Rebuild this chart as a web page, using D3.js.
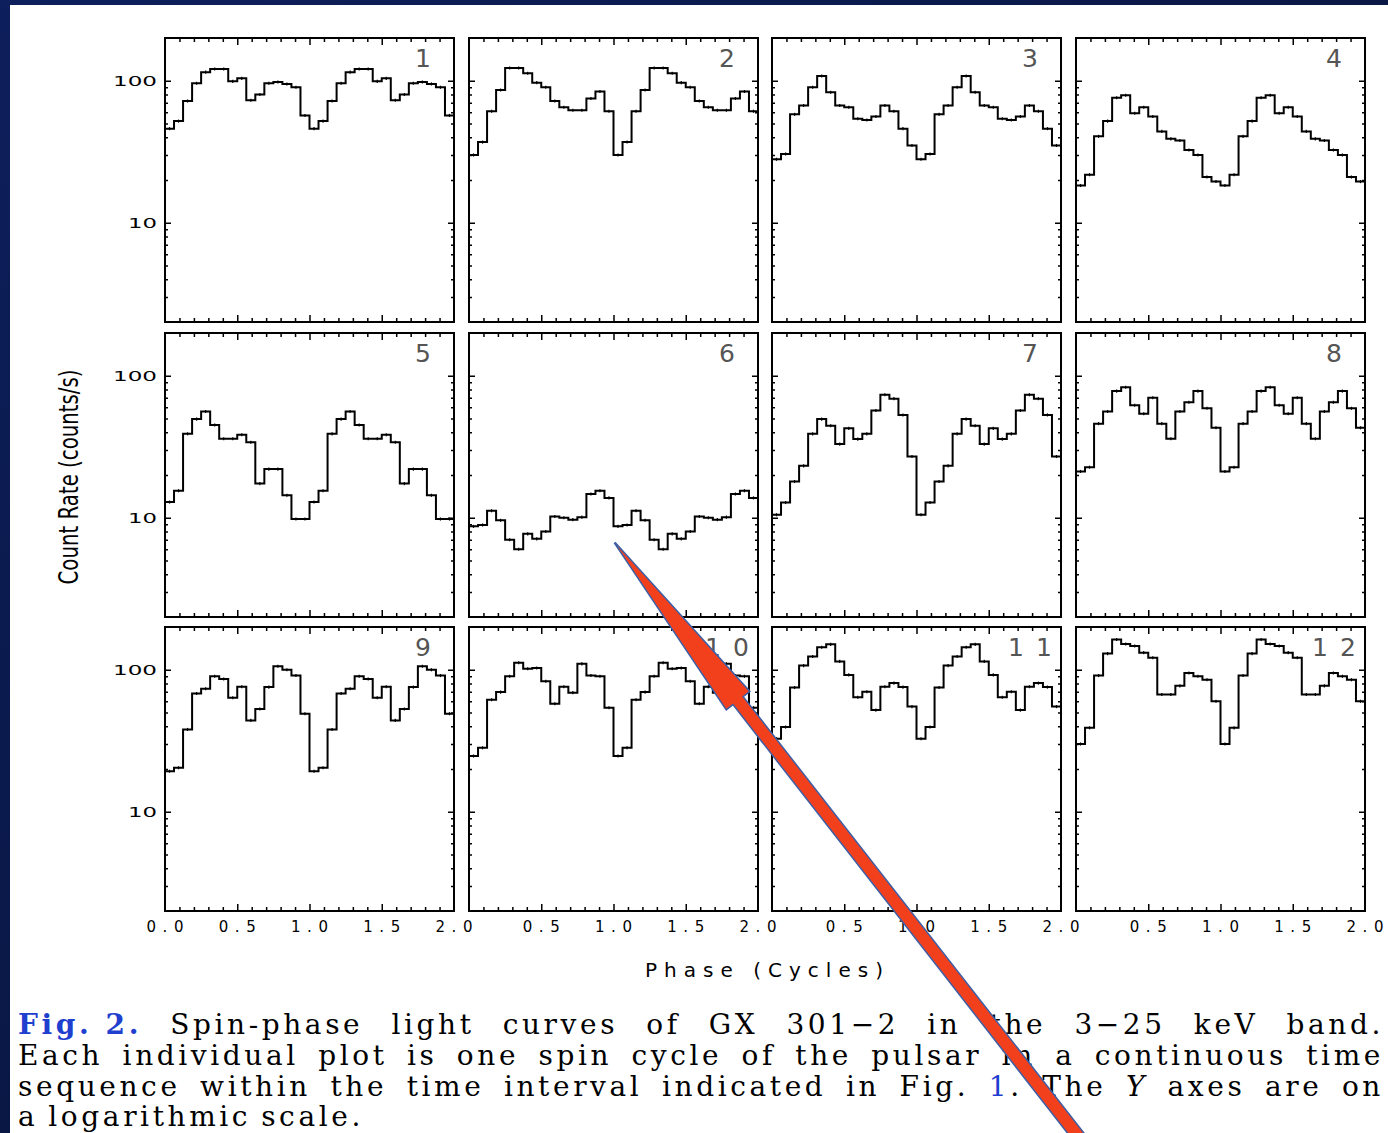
<!DOCTYPE html>
<html><head><meta charset="utf-8">
<script src="https://cdn.jsdelivr.net/npm/d3@7"></script>
<style>body{margin:0;background:#0a1640;} svg{display:block}</style>
</head><body><svg id="c" width="1388" height="1133"></svg>
<script>
// ---- data: one spin cycle (16 phase bins) per panel, counts/s; plotted twice (phase 0-2)
const panelNumbers = ["1","2","3","4","5","6","7","8","9","10","11","12"];
const cycle1  = [46, 52, 72, 96, 115, 121, 121, 99, 104, 73, 80, 96, 98, 95, 90, 57];
const cycle2  = [30, 37, 61, 86, 123, 123, 113, 97, 90, 72, 65, 62, 62, 75, 84, 61];
const cycle3  = [28, 30.5, 58, 67, 90, 108, 83, 67, 65, 54, 53, 56, 67, 61, 46, 35];
const cycle4  = [18.3, 21.8, 40.6, 52, 76, 79, 59, 65, 56, 44, 39, 38, 32.5, 30, 21, 19.5];
const cycle5  = [12.9, 15.5, 39, 49.5, 56, 45, 36, 36, 38.4, 34, 17.4, 22, 22, 14.4, 9.8, 9.8];
const cycle6  = [8.7, 8.9, 11.2, 9.6, 7.0, 6.0, 7.7, 7.1, 8.0, 10.2, 10.0, 9.7, 10.1, 14.7, 15.5, 13.8];
const cycle7  = [10.5, 12.8, 18, 23.2, 39, 49.5, 44.5, 33, 42.6, 35.8, 39, 57, 73.5, 69, 53, 27];
const cycle8  = [21.2, 22.7, 46, 56, 78, 83, 62, 54, 70, 46, 36, 56, 65, 78, 59, 43];
const cycle9  = [19.3, 20.4, 38, 68, 73.5, 90, 86, 63.5, 76, 44, 53, 75.5, 106, 100, 91, 49];
const cycle10 = [24.7, 28.2, 61.5, 69.6, 90, 112, 101.6, 103, 83, 57.6, 76, 69, 110, 91, 90, 54];
const cycle11 = [32.7, 39.5, 75, 107, 124, 144, 151, 114.5, 92, 64, 70, 52, 76, 80.5, 75.5, 55];
const cycle12 = [30, 39, 91, 130, 163.5, 152, 147, 132, 121.5, 67, 67, 77, 95, 90, 85, 60];
const cycles = [cycle1,cycle2,cycle3,cycle4,cycle5,cycle6,cycle7,cycle8,cycle9,cycle10,cycle11,cycle12];
const errFrac = 0.025;
const xTickLabels = ["0.0","0.5","1.0","1.5","2.0"];
const xTickValues = [0, 0.5, 1.0, 1.5, 2.0];
const yTickLabels = ["10","100"];
const yTickValues = [10, 100];
const yDomain = [2, 200];
const xDomain = [0, 2];

// ---- layout
const colLeft = [165, 469, 772, 1076];
const rowTop = [38, 333, 627];
const PW = 289, PH = 284;

const svg = d3.select("#c");
const defs = svg.append("defs");
const grad = defs.append("linearGradient").attr("id","bg").attr("x1",0).attr("y1",0).attr("x2",1).attr("y2",1);
grad.append("stop").attr("offset","0%").attr("stop-color","#0d1f5c");
grad.append("stop").attr("offset","100%").attr("stop-color","#06102e");
svg.append("rect").attr("width",1388).attr("height",1133).attr("fill","url(#bg)");
svg.append("rect").attr("x",10).attr("y",5).attr("width",1378).attr("height",1128).attr("fill","#fff");

const axisFont = "'DejaVu Sans', sans-serif";

cycles.forEach((cyc, k) => {
  const r = Math.floor(k/4), c = k%4;
  const g = svg.append("g").attr("transform", `translate(${colLeft[c]},${rowTop[r]})`);
  const x = d3.scaleLinear().domain(xDomain).range([0, PW]);
  const y = d3.scaleLog().domain(yDomain).range([PH, 0]);
  const vals = cyc.concat(cyc);
  const n = vals.length;
  const pts = vals.map((v,i)=>({p: i*2/n, v}));
  pts.push({p: 2, v: vals[n-1]});
  const line = d3.line().x(d=>x(d.p)).y(d=>y(d.v)).curve(d3.curveStepAfter);
  defs.append("clipPath").attr("id","cp"+k).append("rect").attr("width",PW).attr("height",PH);
  const pg = g.append("g").attr("clip-path",`url(#cp${k})`);
  pg.append("path").attr("d", line(pts)).attr("fill","none").attr("stroke","#000").attr("stroke-width",2);
  pg.selectAll("line.err").data(vals).join("line")
    .attr("x1",(d,i)=>x((i+0.5)*2/n)).attr("x2",(d,i)=>x((i+0.5)*2/n))
    .attr("y1",d=>y(d*(1+errFrac))).attr("y2",d=>y(d*(1-errFrac)))
    .attr("stroke","#000").attr("stroke-width",1.2);

  // ticks (inward) on all four sides
  const minorX = d3.range(1,20).map(i=>i/10).filter(v=>Math.abs(v*2 - Math.round(v*2))>1e-6);
  const majorX = [0.5,1.0,1.5];
  const minorY = [3,4,5,6,7,8,9,20,30,40,50,60,70,80,90];
  const styleAx = sel => { sel.select(".domain").remove(); sel.selectAll("text").remove(); sel.selectAll("line").attr("stroke","#000").attr("stroke-width",1.5); };
  g.append("g").call(d3.axisTop(x).tickValues(minorX).tickSize(-4)).call(styleAx);
  g.append("g").call(d3.axisTop(x).tickValues(majorX).tickSize(-7)).call(styleAx);
  g.append("g").attr("transform",`translate(0,${PH})`).call(d3.axisBottom(x).tickValues(minorX).tickSize(-4)).call(styleAx);
  g.append("g").attr("transform",`translate(0,${PH})`).call(d3.axisBottom(x).tickValues(majorX).tickSize(-7)).call(styleAx);
  g.append("g").call(d3.axisLeft(y).tickValues(minorY).tickSize(-3)).call(styleAx);
  g.append("g").call(d3.axisLeft(y).tickValues(yTickValues).tickSize(-6)).call(styleAx);
  g.append("g").attr("transform",`translate(${PW},0)`).call(d3.axisRight(y).tickValues(minorY).tickSize(-3)).call(styleAx);
  g.append("g").attr("transform",`translate(${PW},0)`).call(d3.axisRight(y).tickValues(yTickValues).tickSize(-6)).call(styleAx);
  g.append("rect").attr("width",PW).attr("height",PH).attr("fill","none").attr("stroke","#000").attr("stroke-width",2);

  // panel number
  const lab = panelNumbers[k];
  const t = g.append("text").attr("x", PW-31).attr("y", 29).attr("text-anchor","middle")
    .attr("font-family",axisFont).attr("font-size",25).attr("fill","#555").text(lab);
  if (lab.length>1) t.attr("textLength",44).attr("lengthAdjust","spacing");

  // y tick labels on first column
  if (c===0) {
    yTickValues.forEach((v,i)=>{
      g.append("text").attr("x",-8).attr("y",y(v)+5).attr("text-anchor","end")
        .attr("font-family",axisFont).attr("font-size",14).attr("fill","#000")
        .attr("textLength", yTickLabels[i].length===3?44:29).attr("lengthAdjust","spacingAndGlyphs")
        .text(yTickLabels[i]);
    });
  }
  // x tick labels on bottom row
  if (r===2) {
    xTickValues.forEach((v,i)=>{
      if (c>0 && i===0) return;
      g.append("text").attr("x",x(v)).attr("y",PH+21).attr("text-anchor","middle")
        .attr("font-family",axisFont).attr("font-size",15).attr("fill","#000")
        .attr("textLength",37).attr("lengthAdjust","spacing").text(xTickLabels[i]);
    });
  }
});

// axis titles
svg.append("text").attr("x",764).attr("y",977).attr("text-anchor","middle")
  .attr("font-family",axisFont).attr("font-size",20).attr("fill","#000")
  .attr("textLength",238).attr("lengthAdjust","spacing").text("Phase (Cycles)");
svg.append("text").attr("transform","translate(78,477) rotate(-90)").attr("text-anchor","middle")
  .attr("font-family",axisFont).attr("font-size",26).attr("fill","#000")
  .attr("textLength",215).attr("lengthAdjust","spacingAndGlyphs").text("Count Rate (counts/s)");

// caption (justified)
const blue = "#1f3fcf";
const capLines = [
  {y:1034, right:1384, just:true, words:[[{t:"Fig. 2.",c:blue,b:true}],[{t:"Spin-phase"}],[{t:"light"}],[{t:"curves"}],[{t:"of"}],[{t:"GX"}],[{t:"301−2"}],[{t:"in"}],[{t:"the"}],[{t:"3−25"}],[{t:"keV"}],[{t:"band."}]]},
  {y:1065, right:1384, just:true, words:"Each individual plot is one spin cycle of the pulsar in a continuous time".split(" ").map(w=>[{t:w}])},
  {y:1096, right:1384, just:true, words:[[{t:"sequence"}],[{t:"within"}],[{t:"the"}],[{t:"time"}],[{t:"interval"}],[{t:"indicated"}],[{t:"in"}],[{t:"Fig."}],[{t:"1",c:blue},{t:"."}],[{t:"The"}],[{t:"Y",i:true}],[{t:"axes"}],[{t:"are"}],[{t:"on"}]]},
  {y:1126, right:0, just:false, words:"a logarithmic scale.".split(" ").map(w=>[{t:w}])}
];
const capG = svg.append("g").attr("font-family","'DejaVu Serif', serif").attr("font-size",28).attr("letter-spacing","3.6px");
capLines.forEach(L=>{
  const els = L.words.map(w=>{
    const t = capG.append("text").attr("y",L.y).attr("fill","#000");
    w.forEach(s=>{ const ts=t.append("tspan").text(s.t); if(s.c) ts.attr("fill",s.c); if(s.b) ts.attr("font-weight","bold"); if(s.i) ts.attr("font-style","italic"); });
    return t;
  });
  const widths = els.map(e=>e.node().getComputedTextLength());
  const left = 18;
  const gap = L.just ? (L.right-left-d3.sum(widths))/(els.length-1) : 10;
  let xx = left;
  els.forEach((e,i)=>{ e.attr("x",xx); xx += widths[i]+gap; });
});

// red annotation arrow
(function(){
  const tip=[615,543], tail=[1085,1145];
  const dx=tail[0]-tip[0], dy=tail[1]-tip[1], L=Math.hypot(dx,dy);
  const u=[dx/L,dy/L], p=[-u[1],u[0]];
  const headLen=200, headW=15, shaftW=6.5;
  const at=(d,o)=>[tip[0]+u[0]*d+p[0]*o, tip[1]+u[1]*d+p[1]*o];
  const poly=[at(0,0.5),at(headLen,headW),at(headLen,shaftW),at(L,shaftW),at(L,-shaftW),at(headLen,-shaftW),at(headLen,-headW),at(0,-0.5)];
  svg.append("polygon").attr("points",poly.map(q=>q.join(",")).join(" "))
    .attr("fill","#f2401c").attr("stroke","#3d5fa6").attr("stroke-width",1.5).attr("stroke-linejoin","miter");
})();
</script></body></html>
